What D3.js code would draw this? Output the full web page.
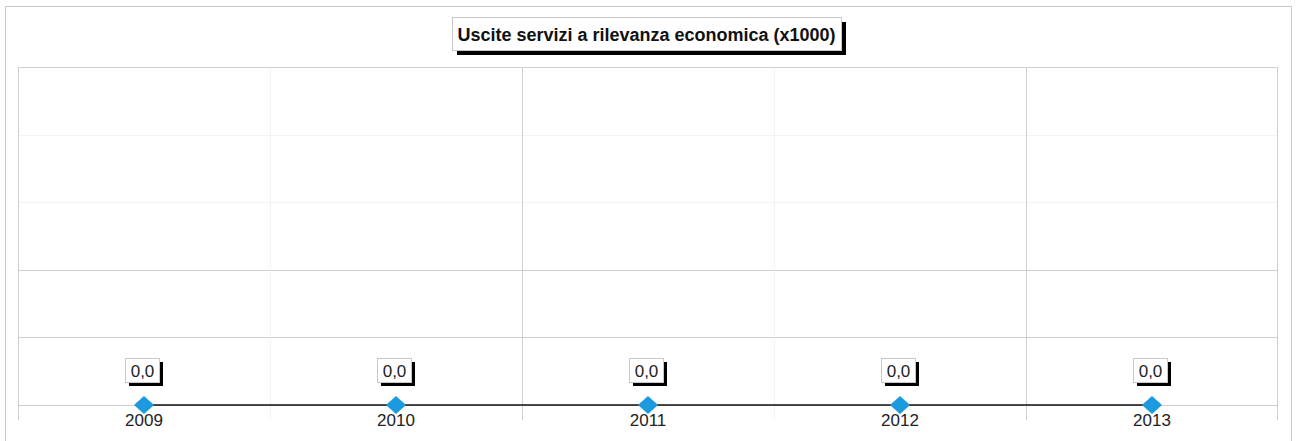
<!DOCTYPE html>
<html>
<head>
<meta charset="utf-8">
<script src="https://cdn.jsdelivr.net/npm/d3@7"></script>
<style>
  body { margin: 0; background: #fff; }
  svg { display: block; font-family: "Liberation Sans", Arial, sans-serif; }
</style>
</head>
<body>
<svg id="chart"></svg>
<script>
const title = "Uscite servizi a rilevanza economica (x1000)";
const years = ["2009", "2010", "2011", "2012", "2013"];
const values = [0, 0, 0, 0, 0];
const yTicks = [0, 1, 2, 3, 4, 5];

const W = 1297, H = 441;
const margin = { top: 67, right: 19, bottom: 36, left: 18 };
const width = W - margin.left - margin.right;
const height = H - margin.top - margin.bottom;

const svg = d3.select("#chart").attr("width", W).attr("height", H);

// outer frame
svg.append("rect")
  .attr("x", 5.5).attr("y", 6.5)
  .attr("width", 1286).attr("height", 450)
  .attr("fill", "#fff").attr("stroke", "#c8c8c8");

const chart = svg.append("g")
  .attr("transform", `translate(${margin.left}, ${margin.top})`);

const x = d3.scaleBand().domain(years).range([0, width]);
const y = d3.scaleLinear().domain([0, 5]).range([height, 0]);

// horizontal grid
chart.selectAll(".hgrid")
  .data(yTicks.slice(1, -1))
  .enter()
  .append("line")
  .attr("x1", 0).attr("x2", width)
  .attr("y1", d => Math.round(y(d)) + 0.5)
  .attr("y2", d => Math.round(y(d)) + 0.5)
  .attr("stroke", d => d <= 2 ? "#cfcfcf" : "#f3f3f3");

// vertical grid at band boundaries, extending below plot
chart.selectAll(".vgrid")
  .data(years.slice(1))
  .enter()
  .append("line")
  .attr("x1", d => Math.round(x(d)) + 0.5)
  .attr("x2", d => Math.round(x(d)) + 0.5)
  .attr("y1", 0).attr("y2", height + 15)
  .attr("stroke", (d, i) => i % 2 === 0 ? "#f3f3f3" : "#cfcfcf");

// plot border
chart.append("rect")
  .attr("x", 0.5).attr("y", 0.5)
  .attr("width", width - 1).attr("height", height)
  .attr("fill", "none").attr("stroke", "#cfcfcf");
chart.append("line")
  .attr("x1", 0.5).attr("x2", 0.5)
  .attr("y1", height).attr("y2", height + 15)
  .attr("stroke", "#cfcfcf");
chart.append("line")
  .attr("x1", width - 0.5).attr("x2", width - 0.5)
  .attr("y1", height).attr("y2", height + 15)
  .attr("stroke", "#cfcfcf");

// x axis labels
const xAxis = chart.append("g")
  .attr("transform", `translate(0, ${height})`)
  .call(d3.axisBottom(x).tickSize(0).tickPadding(9));
xAxis.select(".domain").remove();
xAxis.selectAll("text")
  .style("font-size", "17px")
  .style("font-family", "'Liberation Sans', Arial, sans-serif")
  .attr("fill", "#222");

// series line
const cx = d => x(d.year) + x.bandwidth() / 2;
const pts = years.map((year, i) => ({ year, value: values[i] }));
const line = d3.line().x(cx).y(d => y(d.value));
chart.append("path")
  .datum(pts)
  .attr("d", line)
  .attr("fill", "none")
  .attr("stroke", "#111")
  .attr("stroke-width", 1.5);

// diamonds
chart.selectAll(".marker")
  .data(pts)
  .enter()
  .append("path")
  .attr("class", "marker")
  .attr("transform", d => `translate(${cx(d)}, ${y(d.value)})`)
  .attr("d", "M0,-9 L10,0 L0,9 L-10,0 Z")
  .attr("fill", "#1b9ae0");

// value labels with shadow box
const fmt = v => v.toFixed(1).replace(".", ",");
const lab = chart.selectAll(".lab")
  .data(pts)
  .enter()
  .append("g")
  .attr("transform", d => `translate(${cx(d) - 1}, ${y(d.value) - 46})`);
lab.append("rect")
  .attr("x", -14).attr("y", 3)
  .attr("width", 34).attr("height", 24)
  .attr("fill", "#000");
lab.append("rect")
  .attr("x", -17.5).attr("y", -0.5)
  .attr("width", 34).attr("height", 24)
  .attr("fill", "#fff").attr("stroke", "#c8c8c8");
lab.append("text")
  .attr("x", -0.5).attr("y", 17.5)
  .attr("text-anchor", "middle")
  .style("font-size", "17px")
  .attr("fill", "#222")
  .text(d => fmt(d.value));

// title box
const tg = svg.append("g").attr("transform", `translate(${W / 2 - 1}, 0)`);
const tw = 389;
tg.append("rect")
  .attr("x", -tw / 2 + 4).attr("y", 22)
  .attr("width", tw).attr("height", 33)
  .attr("fill", "#000");
tg.append("rect")
  .attr("x", -tw / 2 - 0.5).attr("y", 17.5)
  .attr("width", tw).attr("height", 33)
  .attr("fill", "#fff").attr("stroke", "#c8c8c8");
tg.append("text")
  .attr("x", -1).attr("y", 40.5)
  .attr("text-anchor", "middle")
  .style("font-size", "18px")
  .style("font-weight", "bold")
  .attr("fill", "#111")
  .text(title);
</script>
</body>
</html>
